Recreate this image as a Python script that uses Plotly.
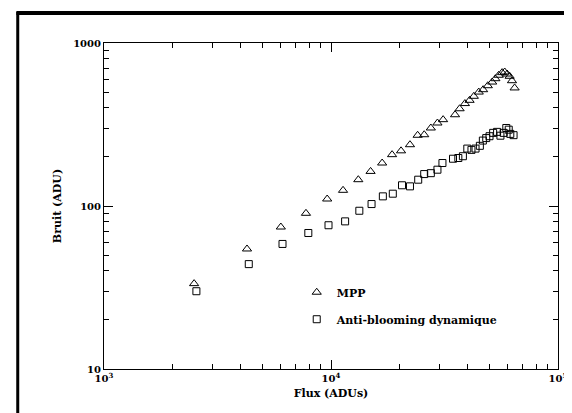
import plotly.graph_objects as go

# MPP (triangles)
mpp_flux = [2494, 4266, 6012, 7757, 9620, 11300, 13190, 14940, 16800, 18580,
            20350, 22280, 24080, 25740, 27530, 29440, 31180, 35190, 36860, 38900,
            40780, 42580, 44770, 46790, 49070, 51290, 52990, 54810, 56720, 58240,
            59690, 61240, 62700, 64400]
mpp_noise = [33.4, 54.5, 74.3, 90.2, 110.4, 124.8, 145, 163, 183.5, 206.5,
             218, 237.7, 271.6, 273.7, 301, 323, 338.6, 363, 395, 425,
             445, 471, 500, 517, 547, 576, 604, 634, 658, 664,
             645, 625, 587, 530]

# Anti-blooming dynamique (squares)
abd_flux = [2553, 4343, 6115, 7945, 9750, 11540, 13330, 15090, 16920, 18720,
            20550, 22280, 24220, 25740, 27530, 29440, 30970, 34470, 36390, 38110,
            39850, 41570, 43330, 45270, 46660, 48290, 49930, 51800, 53910, 55770,
            57620, 59190, 60660, 61640, 63720]
abd_noise = [30, 44, 58.5, 68.3, 76.2, 80.5, 93.5, 102.8, 114.6, 119,
             134, 132, 145, 157, 159, 167, 183.5, 195, 197, 202,
             225, 221, 225, 234, 252, 261, 268, 281, 285, 270,
             281, 301, 294, 277, 272]

x_tickvals = [1e3, 1e4, 1e5]
x_ticktext = ["<b>10<sup>3</sup></b>", "<b>10<sup>4</sup></b>", "<b>10<sup>5</sup></b>"]
y_tickvals = [10, 100, 1000]
y_ticktext = ["<b>10</b>", "<b>100</b>", "<b>1000</b>"]

FONT = "DejaVu Serif"

fig = go.Figure()
fig.add_trace(go.Scatter(
    x=mpp_flux, y=mpp_noise, mode="markers", name="<b>MPP</b>",
    legendgroup="a",
    marker=dict(symbol="triangle-up-open", size=8, color="black",
                line=dict(width=1, color="black"))))
fig.add_trace(go.Scatter(
    x=abd_flux, y=abd_noise, mode="markers", name="<b>Anti-blooming dynamique</b>",
    legendgroup="b",
    marker=dict(symbol="square-open", size=7, color="black",
                line=dict(width=1, color="black"))))

axis_common = dict(
    type="log", showgrid=False, zeroline=False,
    showline=True, linecolor="black", linewidth=1, mirror="ticks",
    ticks="inside", ticklen=9, tickwidth=1, tickcolor="black",
    tickfont=dict(family=FONT, size=10, color="black"),
    ticklabeloverflow="allow",
    minor=dict(ticks="inside", ticklen=5, tickwidth=1, tickcolor="black", dtick="D1"),
)

fig.update_xaxes(
    **axis_common, range=[3, 5], tickvals=x_tickvals, ticktext=x_ticktext,
    title=dict(text="<b>Flux (ADUs)</b>", font=dict(family=FONT, size=11, color="black"),
               standoff=6))
fig.update_yaxes(
    **axis_common, range=[1, 3], tickvals=y_tickvals, ticktext=y_ticktext,
    title=dict(text="<b>Bruit (ADU)</b>", font=dict(family=FONT, size=11, color="black"),
               standoff=9))

# outer frame (left and top edges)
fig.add_shape(type="line", xref="paper", yref="paper",
              x0=-0.19, x1=-0.19, y0=-0.3, y1=1.095, line=dict(color="black", width=3))
fig.add_shape(type="line", xref="paper", yref="paper",
              x0=-0.193, x1=1.2, y0=1.092, y1=1.092, line=dict(color="black", width=4))

fig.update_layout(
    width=572, height=413,
    margin=dict(l=96, r=19, t=35, b=52),
    paper_bgcolor="white", plot_bgcolor="white",
    font=dict(family=FONT, color="black"),
    showlegend=True,
    legend=dict(x=0.4245, y=0.28, xanchor="left", yanchor="top",
                font=dict(family=FONT, size=11, color="black"),
                bgcolor="rgba(0,0,0,0)", tracegroupgap=8, itemwidth=30),
)

fig.write_html("out.html")
